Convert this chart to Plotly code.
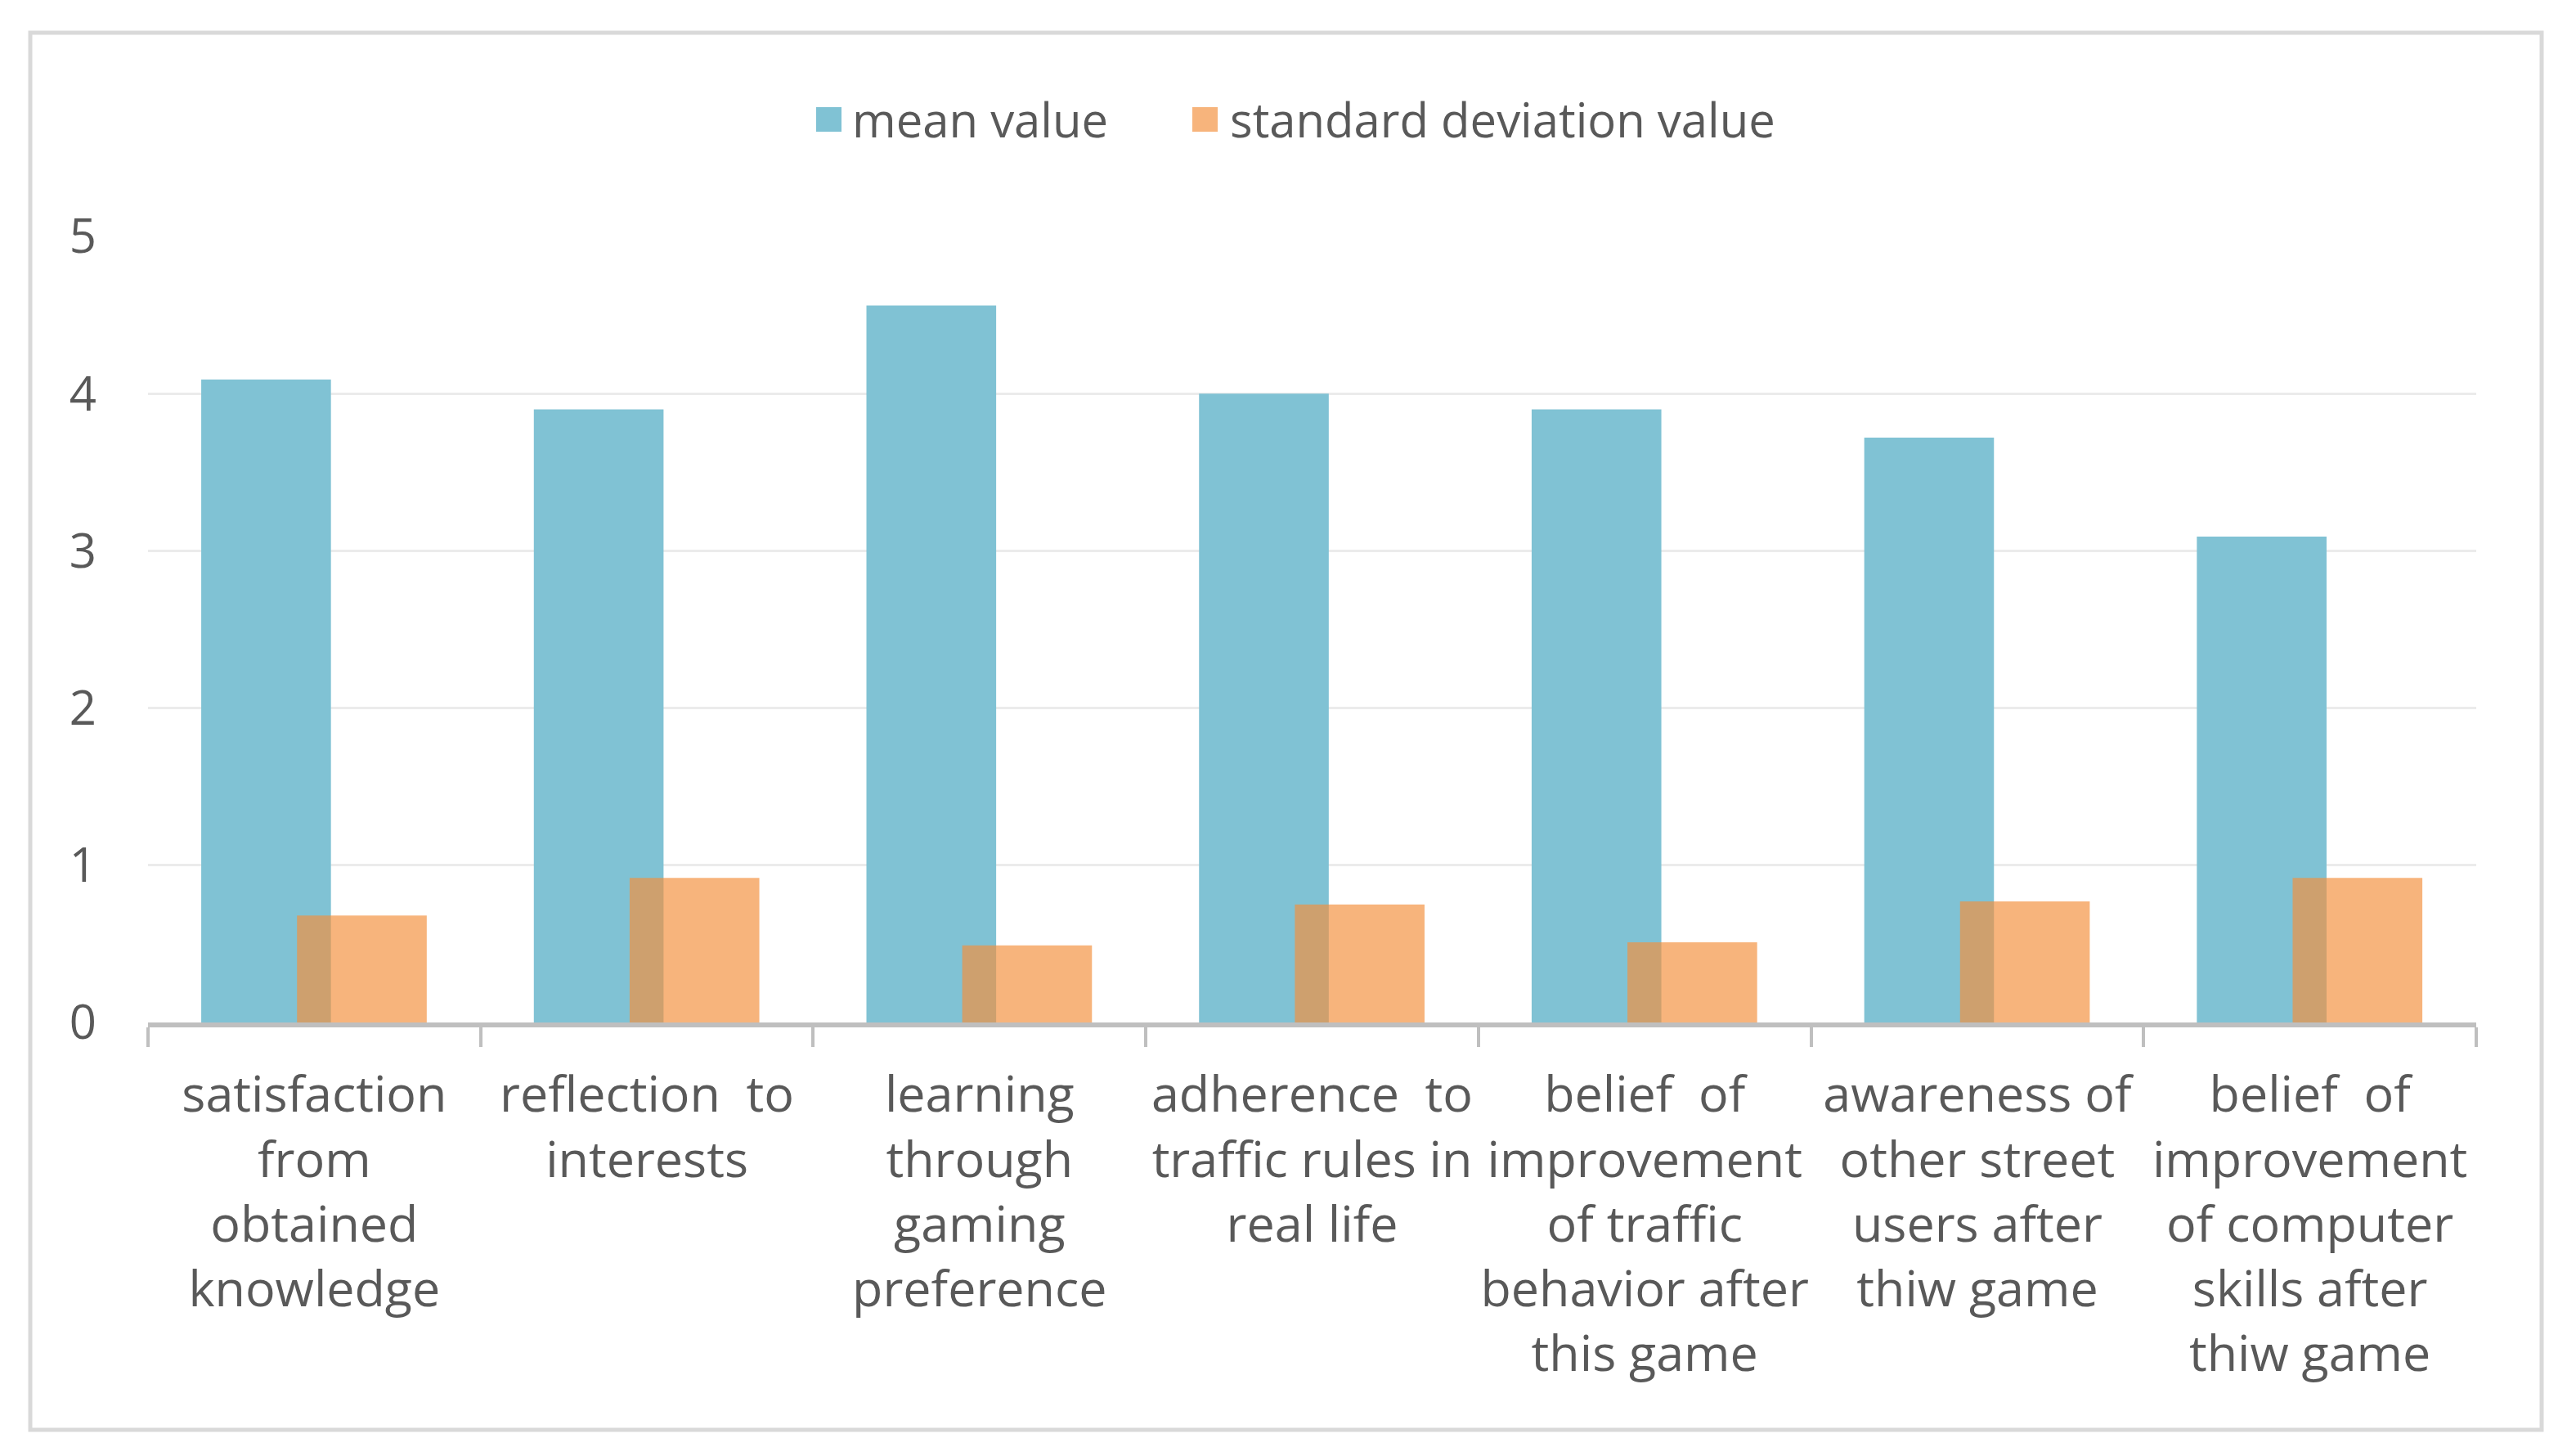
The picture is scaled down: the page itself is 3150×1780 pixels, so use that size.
import plotly.graph_objects as go

categories = [
    "satisfaction<br>from<br>obtained<br>knowledge",
    "reflection\u00a0\u00a0to<br>interests",
    "learning<br>through<br>gaming<br>preference",
    "adherence\u00a0\u00a0to<br>traffic rules in<br>real life",
    "belief\u00a0\u00a0of<br>improvement<br>of traffic<br>behavior after<br>this game",
    "awareness of<br>other street<br>users after<br>thiw game",
    "belief\u00a0\u00a0of<br>improvement<br>of computer<br>skills after<br>thiw game",
]
mean_values = [4.09, 3.90, 4.56, 4.00, 3.90, 3.72, 3.09]
std_values = [0.68, 0.92, 0.49, 0.75, 0.51, 0.77, 0.92]
series_names = ["mean value", "standard deviation value"]

W, H = 3150, 1780
OFF = 8  # page body margin
L = 181 - OFF
R = W - (3028 - OFF)
T = 289 - OFF
B = H - (1250 - OFF)
PW, PH = W - L - R, H - T - B

def px(x):
    return (x - OFF - L) / PW

def py(y):
    return (H - B - (y - OFF)) / PH

FONT = "Open Sans"
FS = 61
TXT = "#595959"
BLUE = "#80c2d4"
ORANGE = "rgba(243,145,62,0.68)"

fig = go.Figure()
fig.add_trace(go.Bar(x=categories, y=mean_values, name=series_names[0],
                     marker=dict(color=BLUE, line=dict(width=0)),
                     width=0.39, offset=-0.34, showlegend=False))
fig.add_trace(go.Bar(x=categories, y=std_values, name=series_names[1],
                     marker=dict(color=ORANGE, line=dict(width=0)),
                     width=0.39, offset=-0.052, showlegend=False))

shapes = [
    dict(type="rect", xref="paper", yref="paper",
         x0=px(37), x1=px(3108), y0=py(1748), y1=py(40),
         line=dict(color="#d9d9d9", width=5), fillcolor="rgba(0,0,0,0)", layer="below"),
    dict(type="rect", xref="paper", yref="paper",
         x0=px(998), x1=px(1029), y0=py(161), y1=py(131),
         line=dict(width=0), fillcolor=BLUE),
    dict(type="rect", xref="paper", yref="paper",
         x0=px(1458), x1=px(1489), y0=py(161), y1=py(131),
         line=dict(width=0), fillcolor="#f7b47c"),
]
annotations = [
    dict(xref="paper", yref="paper", x=px(1040), y=py(145), xanchor="left", yanchor="middle",
         text=series_names[0], showarrow=False, font=dict(family=FONT, size=58, color=TXT)),
    dict(xref="paper", yref="paper", x=px(1502), y=py(145), xanchor="left", yanchor="middle",
         text=series_names[1], showarrow=False, font=dict(family=FONT, size=58, color=TXT)),
]

fig.update_layout(
    width=W, height=H, autosize=False,
    margin=dict(l=L, r=R, t=T, b=B, pad=0),
    paper_bgcolor="white", plot_bgcolor="white",
    barmode="overlay",
    font=dict(family=FONT, size=FS, color=TXT),
    shapes=shapes, annotations=annotations,
    xaxis=dict(showline=True, linecolor="#bfbfbf", linewidth=6,
               ticks="outside", tickson="boundaries", ticklen=24, tickwidth=4,
               tickcolor="#bfbfbf", showgrid=False, tickangle=0, automargin=False,
               tickfont=dict(family=FONT, size=FS, color=TXT),
               ticklabelstandoff=30),
    yaxis=dict(range=[0, 5], dtick=1, showgrid=True, gridcolor="#ebebeb", gridwidth=3,
               zeroline=False, showline=False, ticks="", automargin=False,
               tickfont=dict(family=FONT, size=58, color=TXT),
               ticklabelstandoff=62),
)

fig.write_html("out.html")
